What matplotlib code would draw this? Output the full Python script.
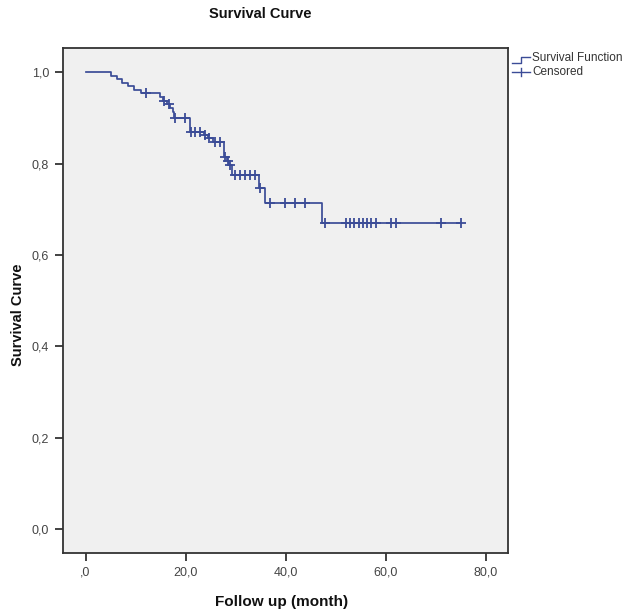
import matplotlib.pyplot as plt
from matplotlib.lines import Line2D
import numpy as np

# ── Kaplan-Meier estimate ───────────────────────────────────
event_times = [0.0, 5.0, 6.2, 7.2, 8.4, 9.6, 11.0, 14.9, 15.5, 16.3, 16.9, 17.4, 17.6,
               20.9, 23.6, 24.4, 25.4, 27.6, 28.3, 28.7, 29.3, 34.6, 35.9, 47.2]
survival = [1.000, 0.992, 0.985, 0.977, 0.969, 0.962, 0.954, 0.946, 0.938, 0.930, 0.922,
            0.914, 0.899, 0.870, 0.863, 0.856, 0.848, 0.815, 0.806, 0.797, 0.775, 0.746,
            0.713, 0.671]
censor_times = [12.0, 15.7, 16.6, 17.8, 19.8, 21.0, 21.9, 22.9, 23.9, 24.6, 25.9, 26.9,
                27.9, 28.5, 28.9, 29.9, 30.9, 31.9, 32.9, 33.9, 34.9, 36.9, 39.9, 41.9,
                43.9, 47.9, 52.0, 52.9, 53.7, 54.6, 55.4, 56.2, 57.1, 58.0, 61.0, 62.0,
                71.0, 75.0]
end_time = 75.0

x_ticks = [0, 20, 40, 60, 80]
x_ticklabels = [',0', '20,0', '40,0', '60,0', '80,0']
y_ticks = [0.0, 0.2, 0.4, 0.6, 0.8, 1.0]
y_ticklabels = ['0,0', '0,2', '0,4', '0,6', '0,8', '1,0']

line_color = '#3b4c97'
plt.rcParams['font.family'] = ['Liberation Sans', 'DejaVu Sans']

fig = plt.figure(figsize=(6.26, 6.15), dpi=100)
ax = fig.add_axes([63 / 626, 62 / 615, 445 / 626, 505 / 615])
ax.set_facecolor('#f0f0f0')

# step curve, extended to the last follow-up time
steps_x = event_times + [end_time]
steps_y = survival + [survival[-1]]
ax.step(steps_x, steps_y, where='post', color=line_color, linewidth=1.25)

# censored marks sit on the curve
idx = np.searchsorted(event_times, censor_times, side='right') - 1
censor_y = np.array(survival)[idx]
ax.plot(censor_times, censor_y, linestyle='none', marker='+', color=line_color,
        markersize=7, markeredgewidth=1.3)

ax.set_xlim(-4.5, 84.5)
ax.set_ylim(-0.052, 1.053)
ax.set_xticks(x_ticks)
ax.set_xticklabels(x_ticklabels)
ax.set_yticks(y_ticks)
ax.set_yticklabels(y_ticklabels)
ax.tick_params(direction='out', length=6, width=1.3, color='#333333',
               labelsize=9, labelcolor='#444444', pad=4)
for s in ax.spines.values():
    s.set_color('#333333')
    s.set_linewidth(1.3)

fig.text(260 / 626, 1 - 14 / 615, 'Survival Curve', ha='center', va='center',
         fontsize=10.5, fontweight='bold', color='#111111')
fig.text(282 / 626, 1 - 602 / 615, 'Follow up (month)', ha='center', va='center',
         fontsize=11, fontweight='bold', color='#111111')
fig.text(18 / 626, 1 - 315 / 615, 'Survival Curve', ha='center', va='center',
         rotation=90, fontsize=10.5, fontweight='bold', color='#111111')

# legend drawn by hand, outside the axes
def px(x, y):
    return x / 626, 1 - y / 615

fig.add_artist(Line2D([px(512, 0)[0], px(521, 0)[0], px(521, 0)[0], px(530, 0)[0]],
                      [px(0, 63)[1], px(0, 63)[1], px(0, 57)[1], px(0, 57)[1]],
                      color=line_color, linewidth=1.0))
fig.add_artist(Line2D([px(512, 0)[0], px(530, 0)[0]], [px(0, 72)[1]] * 2,
                      color=line_color, linewidth=1.0))
fig.add_artist(Line2D([px(521, 0)[0]] * 2, [px(0, 68)[1], px(0, 76)[1]],
                      color=line_color, linewidth=1.0))
fig.text(*px(532, 58), 'Survival Function', ha='left', va='center', fontsize=8.5,
         color='#333333')
fig.text(*px(532, 72), 'Censored', ha='left', va='center', fontsize=8.5,
         color='#333333')

fig.savefig('out.png', dpi=100)
